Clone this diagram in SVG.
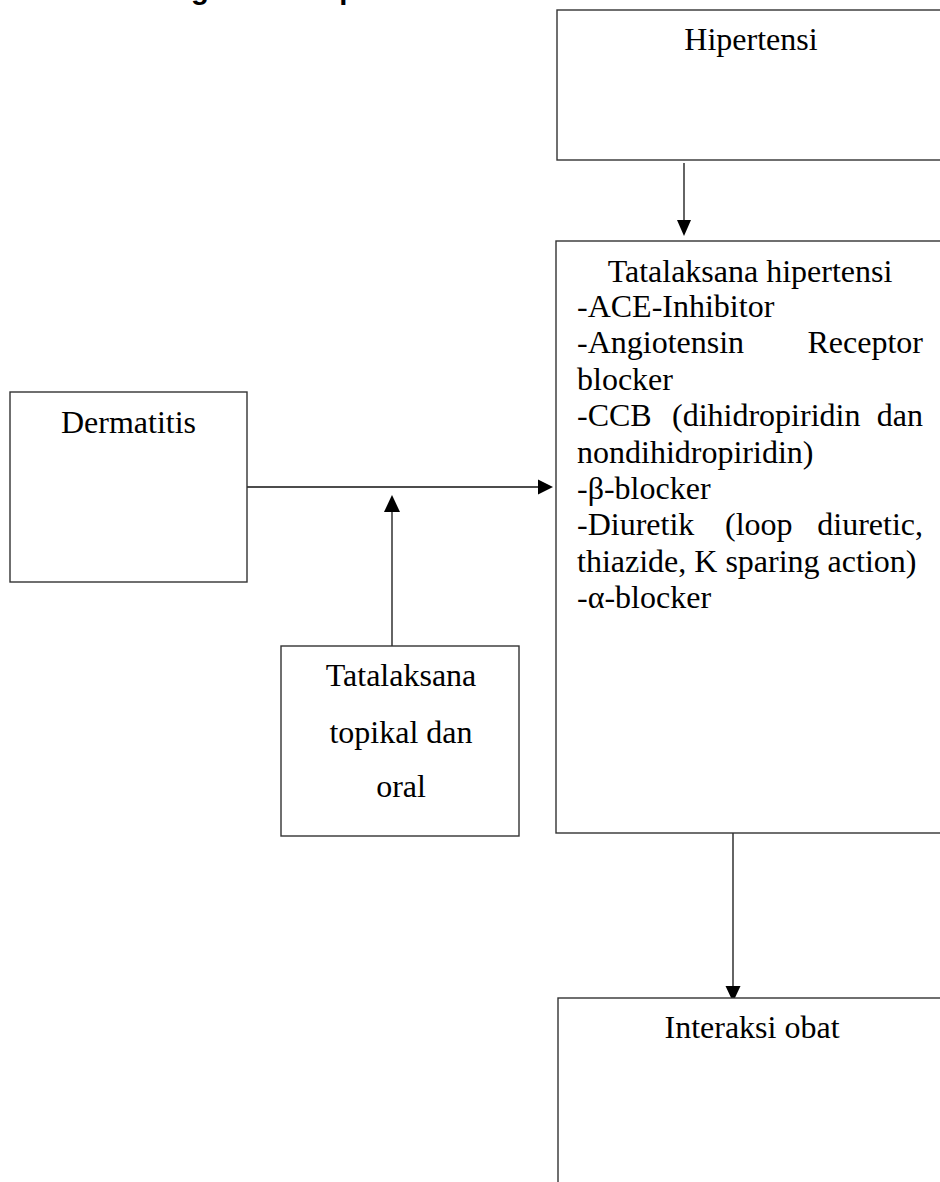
<svg xmlns="http://www.w3.org/2000/svg" width="940" height="1182" viewBox="0 0 940 1182">
<style>
.box{fill:#fff;stroke:#333;stroke-width:1.4}
.t{font-family:"Liberation Serif","Times New Roman",serif;font-size:32px;fill:#000}
.c{text-anchor:middle}
.e{text-anchor:end}
.line{stroke:#111;stroke-width:1.3;fill:none}
.head{fill:#000}
.h{font-family:"Liberation Sans",Arial,sans-serif;font-size:29.3px;font-weight:bold;fill:#000}
</style>
<rect width="940" height="1182" fill="#fff"/>
<text class="h" x="108" y="-1">Kerangka Konsep</text>

<g id="connectors">
  <line class="line" x1="684" y1="163" x2="684" y2="222"/>
  <path class="head" d="M677,220 L691,220 L684,236 Z"/>
  <line class="line" x1="247" y1="487" x2="540" y2="487"/>
  <path class="head" d="M538,479.5 L538,494.5 L553,487 Z"/>
  <line class="line" x1="392" y1="646" x2="392" y2="510"/>
  <path class="head" d="M384,512 L400,512 L392,495 Z"/>
  <line class="line" x1="733" y1="833" x2="733" y2="987"/>
  <path class="head" d="M725.5,986 L740.5,986 L733,1002 Z"/>
</g>

<g id="hipertensi">
  <rect class="box" x="557" y="10" width="400" height="150"/>
  <text class="t c" x="751" y="50">Hipertensi</text>
</g>

<g id="tatalaksana-hipertensi">
  <rect class="box" x="556" y="241" width="400" height="592"/>
  <text class="t c" x="750" y="282">Tatalaksana hipertensi</text>
  <text class="t" x="577" y="317">-ACE-Inhibitor</text>
  <text class="t" x="577" y="353">-Angiotensin</text>
  <text class="t e" x="923" y="353">Receptor</text>
  <text class="t" x="577" y="390">blocker</text>
  <text class="t" x="577" y="426">-CCB</text>
  <text class="t" x="672" y="426">(dihidropiridin</text>
  <text class="t e" x="923" y="426">dan</text>
  <text class="t" x="577" y="463">nondihidropiridin)</text>
  <text class="t" x="577" y="499">-β-blocker</text>
  <text class="t" x="577" y="535">-Diuretik</text>
  <text class="t" x="725" y="535">(loop</text>
  <text class="t e" x="923" y="535">diuretic,</text>
  <text class="t" x="577" y="572">thiazide, K sparing action)</text>
  <text class="t" x="577" y="608">-α-blocker</text>
</g>

<g id="dermatitis">
  <rect class="box" x="10" y="392" width="237" height="190"/>
  <text class="t c" x="128.5" y="433">Dermatitis</text>
</g>

<g id="tatalaksana-topikal">
  <rect class="box" x="281" y="646" width="238" height="190"/>
  <text class="t c" x="401" y="686">Tatalaksana</text>
  <text class="t c" x="401" y="743">topikal dan</text>
  <text class="t c" x="401" y="797">oral</text>
</g>

<g id="interaksi-obat">
  <rect class="box" x="558" y="998" width="400" height="220"/>
  <text class="t c" x="752" y="1038">Interaksi obat</text>
</g>
</svg>
